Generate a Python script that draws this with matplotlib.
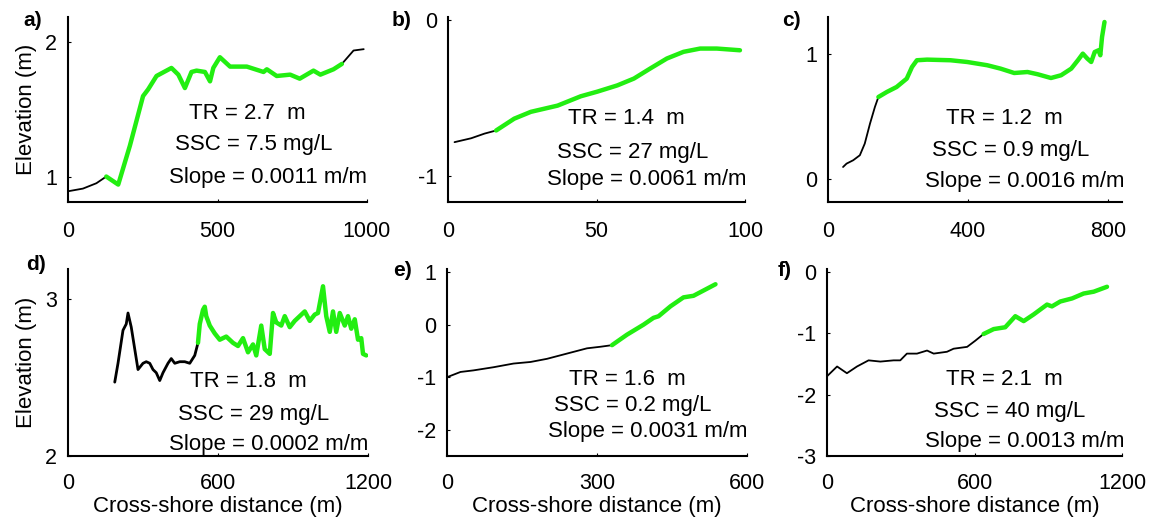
import matplotlib
matplotlib.use('Agg')
import matplotlib.pyplot as plt

plt.rcParams['font.family'] = ['Liberation Sans', 'DejaVu Sans']
plt.rcParams['axes.unicode_minus'] = False

# profile data, black = outside, green = marsh platform segment
a_xk = [0, 50, 95, 128]
a_yk = [0.89, 0.91, 0.95, 1.0]
a_xg = [128, 168, 207, 251, 268, 296, 346, 369, 391, 413, 430, 458, 475, 486, 508,
        542, 598, 654, 665, 698, 743, 775, 821, 844, 888, 916]
a_yg = [1.0, 0.94, 1.23, 1.6, 1.65, 1.75, 1.81, 1.76, 1.66, 1.78, 1.79, 1.78, 1.71, 1.81, 1.89,
        1.82, 1.82, 1.78, 1.80, 1.75, 1.76, 1.73, 1.79, 1.76, 1.80, 1.84]
a_xk2 = [916, 955, 989]
a_yk2 = [1.84, 1.94, 1.95]

b_xk = [2.2, 7.8, 12.3, 16.2]
b_yk = [-0.785, -0.76, -0.73, -0.71]
b_xg = [16.2, 22.3, 27.9, 36.9, 44.7, 50.3, 57, 62.6, 68.2, 73.7, 79.3, 84.9, 90.5, 98.3]
b_yg = [-0.71, -0.634, -0.59, -0.55, -0.49, -0.46, -0.42, -0.376, -0.31, -0.247, -0.204,
        -0.183, -0.183, -0.194]

c_xk = [43, 53, 72, 91, 105, 120, 134, 144]
c_yk = [0.093, 0.12, 0.147, 0.187, 0.28, 0.44, 0.573, 0.653]
c_xg = [144, 168, 196, 225, 240, 254, 283, 350, 398, 455, 493, 532, 570, 599, 637, 666,
        695, 714, 728, 741, 752, 762, 773, 778, 783, 790]
c_yg = [0.653, 0.693, 0.733, 0.8, 0.893, 0.947, 0.952, 0.947, 0.933, 0.907, 0.88, 0.845,
        0.853, 0.835, 0.805, 0.827, 0.88, 0.947, 1.0, 0.96, 0.933, 1.013, 1.027, 0.987,
        1.133, 1.253]

d_xk = [187, 200, 220, 233, 240, 253, 267, 280, 300, 313, 327, 340, 353, 367, 380, 400,
        413, 427, 447, 467, 487, 507, 520]
d_yk = [2.47, 2.59, 2.80, 2.84, 2.91, 2.82, 2.68, 2.55, 2.59, 2.60, 2.59, 2.55, 2.53, 2.48,
        2.53, 2.59, 2.62, 2.59, 2.60, 2.60, 2.59, 2.64, 2.72]
d_xg = [520, 527, 540, 547, 553, 567, 587, 607, 633, 660, 680, 700, 720, 740, 753, 773,
        787, 807, 820, 833, 853, 867, 887, 907, 927, 947, 967, 987, 1000, 1020, 1033,
        1047, 1060, 1073, 1087, 1107, 1120, 1133, 1147, 1160, 1173, 1180, 1193]
d_yg = [2.72, 2.84, 2.93, 2.95, 2.89, 2.83, 2.78, 2.74, 2.76, 2.72, 2.70, 2.75, 2.66, 2.71,
        2.64, 2.83, 2.68, 2.65, 2.91, 2.85, 2.83, 2.89, 2.82, 2.86, 2.89, 2.92, 2.86, 2.90,
        2.91, 3.08, 2.89, 2.79, 2.92, 2.79, 2.91, 2.83, 2.89, 2.81, 2.87, 2.74, 2.75, 2.65,
        2.64]

e_xk = [0, 27, 53, 93, 133, 167, 200, 240, 280, 307, 330]
e_yk = [-1.0, -0.90, -0.87, -0.81, -0.74, -0.71, -0.65, -0.55, -0.45, -0.42, -0.39]
e_xg = [330, 360, 393, 413, 423, 447, 473, 493, 513, 537]
e_yg = [-0.39, -0.19, 0.0, 0.13, 0.16, 0.35, 0.52, 0.55, 0.65, 0.77]

f_xk = [0, 41, 81, 122, 169, 217, 271, 298, 325, 366, 407, 434, 488, 515, 570, 603, 637]
f_yk = [-1.70, -1.54, -1.65, -1.54, -1.44, -1.46, -1.44, -1.44, -1.33, -1.33, -1.28,
        -1.33, -1.30, -1.25, -1.22, -1.12, -1.01]
f_xg = [637, 678, 725, 766, 800, 841, 895, 915, 949, 997, 1044, 1085, 1139]
f_yg = [-1.01, -0.93, -0.90, -0.72, -0.80, -0.69, -0.53, -0.56, -0.48, -0.43, -0.35,
        -0.32, -0.24]

panel_labels = ['a)', 'b)', 'c)', 'd)', 'e)', 'f)']
tr = ['2.7', '1.4', '1.2', '1.8', '1.6', '2.1']
ssc = ['7.5', '27', '0.9', '29', '0.2', '40']
slope = ['0.0011', '0.0061', '0.0016', '0.0002', '0.0031', '0.0013']
xticks = [[0, 500, 1000], [0, 50, 100], [0, 400, 800],
          [0, 600, 1200], [0, 300, 600], [0, 600, 1200]]
yticks = [[1, 2], [-1, 0], [0, 1], [2, 3], [-2, -1, 0, 1], [-3, -2, -1, 0]]

black_x = [[a_xk, a_xk2], [b_xk], [c_xk], [d_xk], [e_xk], [f_xk]]
black_y = [[a_yk, a_yk2], [b_yk], [c_yk], [d_yk], [e_yk], [f_yk]]
green_x = [a_xg, b_xg, c_xg, d_xg, e_xg, f_xg]
green_y = [a_yg, b_yg, c_yg, d_yg, e_yg, f_yg]

# layout (pixels of a 1152x528 figure)
W, H = 1152, 528
boxes = [(68, 17, 299, 185), (448, 17, 297, 185), (828, 17, 294, 185),
         (68, 269, 300, 187), (447, 269, 300, 187), (827, 269, 295, 187)]
xlims = [(0, 1000), (0, 100), (0, 840), (0, 1200), (0, 600), (0, 1200)]
ylims = [(0.81, 2.19), (-1.17, 0.02), (-0.187, 1.293), (2.0, 3.19), (-2.5, 1.06), (-3.0, 0.05)]
text_y = [(0.48, 0.31, 0.13), (0.45, 0.27, 0.12), (0.45, 0.28, 0.11),
          (0.40, 0.22, 0.06), (0.41, 0.27, 0.13), (0.41, 0.24, 0.08)]
label_pos = [(33, 20), (402, 20), (791, 20), (36, 264), (403, 270), (785, 270)]

fig = plt.figure(figsize=(11.52, 5.28), dpi=100)
green = '#22ee11'

for i in range(6):
    l, t, w, h = boxes[i]
    ax = fig.add_axes([l / W, 1 - (t + h) / H, w / W, h / H])
    lw_k = 2.0 if i == 3 else 1.3
    for xs, ys in zip(black_x[i], black_y[i]):
        ax.plot(xs, ys, color='black', lw=lw_k, solid_capstyle='round')
    ax.plot(green_x[i], green_y[i], color=green, lw=3.2, solid_capstyle='round',
            solid_joinstyle='round')
    ax.set_xlim(*xlims[i])
    ax.set_ylim(*ylims[i])
    ax.set_xticks(xticks[i])
    ax.set_yticks(yticks[i])
    for s in ['top', 'right']:
        ax.spines[s].set_visible(False)
    for s in ['left', 'bottom']:
        ax.spines[s].set_linewidth(1.5)
    ax.tick_params(direction='in', length=2, labelsize=15.5)
    ax.tick_params(axis='x', pad=14 if i < 3 else 12)
    ax.tick_params(axis='y', pad=8)
    ax.patch.set_alpha(0)
    ty = text_y[i]
    ax.text(0.60, ty[0], 'TR = %s  m' % tr[i], transform=ax.transAxes,
            ha='center', va='center', fontsize=16)
    ax.text(0.62, ty[1], 'SSC = %s mg/L' % ssc[i], transform=ax.transAxes,
            ha='center', va='center', fontsize=16)
    ax.text(0.67, ty[2], 'Slope = %s m/m' % slope[i], transform=ax.transAxes,
            ha='center', va='center', fontsize=16)
    if i % 3 == 0:
        ax.set_ylabel('Elevation (m)', fontsize=16, labelpad=6)
    if i >= 3:
        ax.set_xlabel('Cross-shore distance (m)', fontsize=16, labelpad=2)
    lx, ly = label_pos[i]
    fig.text(lx / W, 1 - ly / H, panel_labels[i], ha='center', va='center',
             fontsize=15, fontweight='bold')

fig.savefig('out.png', dpi=100)
